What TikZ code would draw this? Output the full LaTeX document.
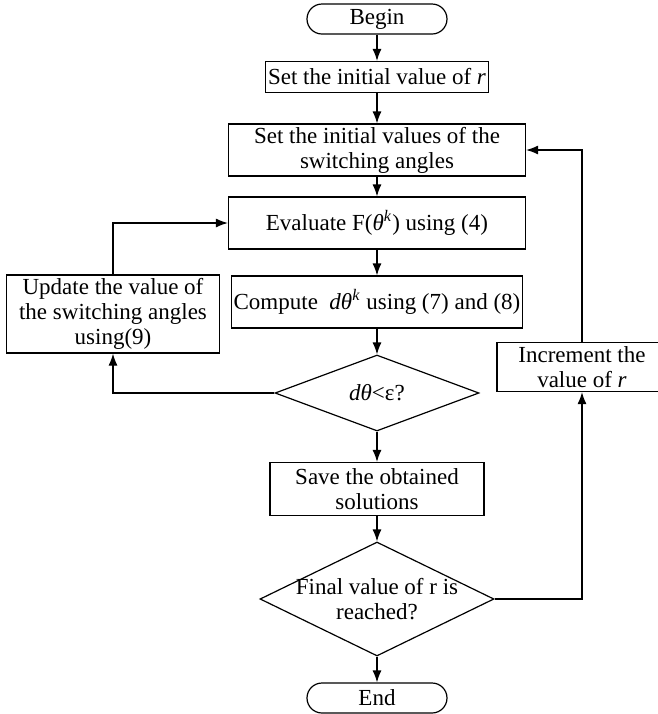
\documentclass[tikz,border=0pt]{standalone}
\usepackage{fontspec}
\setmainfont{Liberation Serif}
\usetikzlibrary{shapes.geometric,arrows.meta}
\newcommand{\flowfont}{\fontsize{11.5}{12.5}\selectfont}
\tikzset{
  block/.style={draw, rectangle, align=center, inner sep=1pt, font=\flowfont, line width=0.6pt},
  termbox/.style={block, rounded corners=7.5pt, minimum width=70pt, minimum height=15pt},
  decision/.style={draw, diamond, align=center, inner sep=0pt, font=\flowfont, line width=0.6pt},
  flow/.style={line width=0.6pt, -{Latex[length=6pt,width=4.5pt]}}
}
\begin{document}
\begin{tikzpicture}[x=0.5pt, y=-0.5pt]
        \useasboundingbox (0,0) rectangle (658,714);
        % main column
        \node[termbox] (begin) at (377,19) {Begin};
        \node[block, minimum width=111.5pt, minimum height=15.5pt] (initr) at (377,77)
            {Set the initial value of \textit{r}};
        \node[block, minimum width=148.5pt, minimum height=26pt] (initang) at (377,150)
            {Set the initial values of the\\switching angles};
        \node[block, minimum width=148.5pt, minimum height=26pt] (eval) at (377,223)
            {Evaluate F(\textit{θ}\textsuperscript{\textit{k}}) using (4)};
        \node[block, minimum width=142pt, minimum height=26pt] (comp) at (377,302)
            {Compute~ \textit{dθ}\textsuperscript{\textit{k}} using (7) and (8)};
        \node[decision, aspect=2.7, minimum width=102pt, minimum height=38pt] (dcheck) at (377,393)
            {\textit{dθ}<ε?};
        \node[block, minimum width=107pt, minimum height=26.5pt] (save) at (377,489)
            {Save the obtained\\solutions};
        \node[decision, minimum width=117pt, minimum height=57pt,
              label={[align=center, font=\flowfont]center:Final value of r is\\reached?}] (final) at (377,599) {};
        \node[termbox] (end) at (377,698) {End};
        % side boxes
        \node[block, minimum width=106.5pt, minimum height=39pt] (update) at (113,314)
            {Update the value of\\the switching angles\\using(9)};
        \node[block, minimum width=85pt, minimum height=24.5pt] (incr) at (582,367)
            {Increment the\\value of \textit{r}};
        % connectors
        \draw[flow] (begin) -- (initr);
        \draw[flow] (initr) -- (initang);
        \draw[flow] (initang) -- (eval);
        \draw[flow] (eval) -- (comp);
        \draw[flow] (comp) -- (dcheck);
        \draw[flow] (dcheck) -- (save);
        \draw[flow] (save) -- (final);
        \draw[flow] (final) -- (end);
        \draw[flow] (dcheck.west) -| (update.south);
        \draw[flow] (update.north) |- (eval.west);
        \draw[flow] (final.east) -| (incr.south);
        \draw[flow] (incr.north) |- (initang.east);
      \end{tikzpicture}
\end{document}
